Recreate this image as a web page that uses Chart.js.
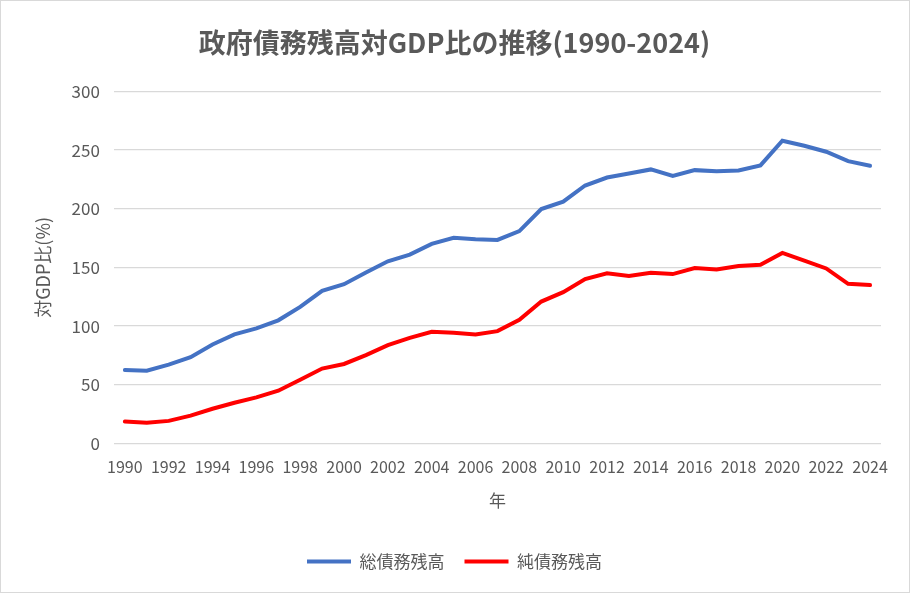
<!DOCTYPE html>
<html>
<head>
<meta charset="utf-8">
<script src="https://cdn.jsdelivr.net/npm/chart.js@4"></script>
<style>
  html, body { margin: 0; padding: 0; background: #fff; }
  #wrap { position: relative; width: 908px; height: 591px; border: 1px solid #d9d9d9; }
</style>
</head>
<body>
<div id="wrap"><canvas id="myChart"></canvas></div>
<script>
var years = [];
for (var y = 1990; y <= 2024; y++) years.push(String(y));
var sou = [62.6, 62, 67.2, 73.5, 84.3, 92.9, 98, 104.9, 116.3, 130, 135.7, 145.7, 155.2, 160.9, 170, 175.2, 174, 173.4,
    180.9, 199.7, 206, 219.8, 226.6, 230, 233.5, 228, 232.9, 232, 232.6, 236.9, 258, 253.7, 248.6, 240.6, 236.6];
var jun = [18.6, 17.5, 19.2, 23.7, 29.5, 34.6, 39.2, 44.9, 54.3, 63.8, 67.7, 75.2, 83.7, 90, 95.1, 94.3, 92.9, 95.7,
    105.4, 120.9, 128.9, 140, 144.9, 142.6, 145.5, 144.3, 149.5, 148.3, 151.2, 152.3, 162.3, 155.7, 149.1, 136, 134.9];
var yTicks = [0, 50, 100, 150, 200, 250, 300];

var gris = '#595959';
var fuente = '"Noto Sans CJK JP", "Noto Sans", sans-serif';

var ctx = document.getElementById('myChart');
new Chart(ctx, {
    type: 'line',
    data: {
        labels: years,
        datasets: [{
                label: '総債務残高',
                data: sou,
                borderColor: '#4472C4',
                backgroundColor: '#4472C4',
                borderWidth: 4,
                borderCapStyle: 'round',
                pointRadius: 0,
                tension: 0
            }, {
                label: '純債務残高',
                data: jun,
                borderColor: '#FF0000',
                backgroundColor: '#FF0000',
                borderWidth: 4,
                borderCapStyle: 'round',
                pointRadius: 0,
                tension: 0
            }]
    },
    options: {
        responsive: true,
        maintainAspectRatio: false,
        animation: false,
        layout: { padding: { left: 27, right: 28, top: 10, bottom: 12 } },
        plugins: {
            title: {
                display: true,
                text: '政府債務残高対GDP比の推移(1990-2024)',
                color: gris,
                font: { family: fuente, size: 27, weight: 'bold' },
                padding: { top: 16, bottom: 32 }
            },
            legend: {
                position: 'bottom',
                labels: {
                    color: gris,
                    font: { family: fuente, size: 17 },
                    usePointStyle: true,
                    pointStyle: 'line',
                    pointStyleWidth: 44,
                    padding: 20
                }
            },
            tooltip: { enabled: false }
        },
        scales: {
            x: {
                offset: true,
                grid: { display: false },
                border: { display: false },
                ticks: {
                    color: gris,
                    font: { family: fuente, size: 16 },
                    autoSkip: false,
                    maxRotation: 0,
                    padding: 6,
                    callback: function (v, i) { return i % 2 === 0 ? years[i] : ''; }
                },
                title: {
                    display: true,
                    text: '年',
                    color: gris,
                    font: { family: fuente, size: 17 },
                    padding: { top: 8, bottom: 22 }
                }
            },
            y: {
                min: 0,
                max: 300,
                afterBuildTicks: function (axis) {
                    axis.ticks = yTicks.map(function (v) { return { value: v }; });
                },
                grid: { color: '#d9d9d9', lineWidth: 1.3, drawTicks: false },
                border: { display: false },
                ticks: {
                    color: gris,
                    font: { family: fuente, size: 17 },
                    padding: 14
                },
                title: {
                    display: true,
                    text: '対GDP比(%)',
                    color: gris,
                    font: { family: fuente, size: 18 },
                    padding: { bottom: 4 }
                }
            }
        }
    }
});
</script>
</body>
</html>
